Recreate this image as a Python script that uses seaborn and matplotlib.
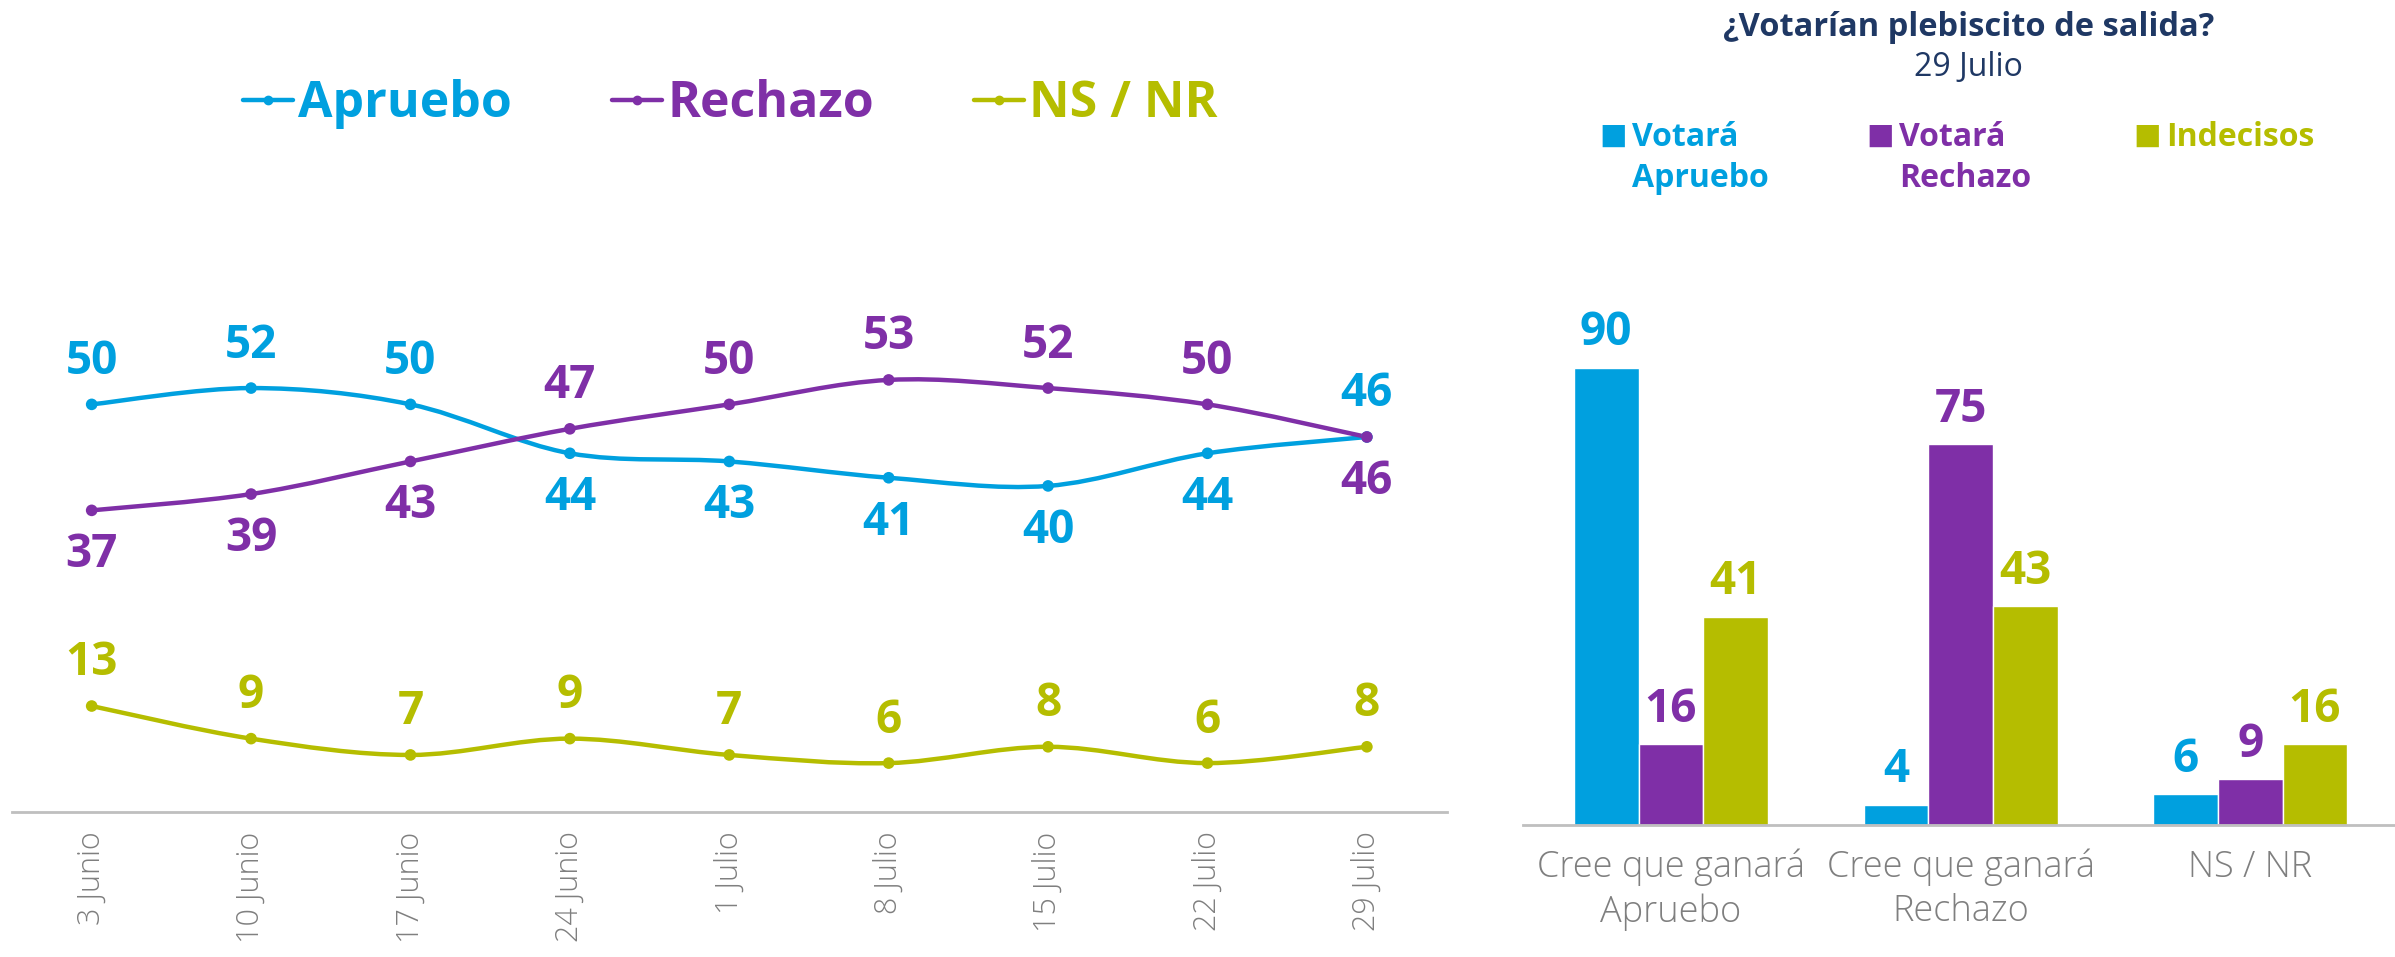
import numpy as np
import pandas as pd
import matplotlib.pyplot as plt
from matplotlib.path import Path
from matplotlib.patches import PathPatch
from matplotlib.lines import Line2D
import seaborn as sns

# datos serie temporal
fechas = ['3 Junio', '10 Junio', '17 Junio', '24 Junio', '1 Julio',
          '8 Julio', '15 Julio', '22 Julio', '29 Julio']
apruebo = [50, 52, 50, 44, 43, 41, 40, 44, 46]
rechazo = [37, 39, 43, 47, 50, 53, 52, 50, 46]
ns_nr = [13, 9, 7, 9, 7, 6, 8, 6, 8]

# datos barras (29 Julio)
grupos = ['Cree que ganará\nApruebo', 'Cree que ganará\nRechazo', 'NS / NR']
votara_apruebo = [90, 4, 6]
votara_rechazo = [16, 75, 9]
indecisos = [41, 43, 16]

AZUL = '#00A0DF'
MORADO = '#7F2FA7'
VERDE = '#B5BD00'
GRIS = '#7F7F7F'
NAVY = '#1F3864'

sns.set_style('white')
plt.rcParams['font.family'] = ['Open Sans', 'DejaVu Sans']

series = {'Apruebo': apruebo, 'Rechazo': rechazo, 'NS / NR': ns_nr}
colores_l = {'Apruebo': AZUL, 'Rechazo': MORADO, 'NS / NR': VERDE}
df_lineas = pd.concat([pd.DataFrame({'fecha': fechas, 'valor': v, 'serie': k})
                       for k, v in series.items()], ignore_index=True)

fig = plt.figure(figsize=(23.95, 9.57), dpi=100)
ax = fig.add_axes([0.005, 0.1515, 0.599, 0.535])
ax2 = fig.add_axes([0.636, 0.138, 0.364, 0.5486])


def curva(x, y):
    # curva suave tipo excel (catmull-rom -> bezier)
    pts = np.column_stack([x, y]).astype(float)
    verts, codes = [pts[0]], [Path.MOVETO]
    n = len(pts)
    for i in range(n - 1):
        p0 = pts[i - 1] if i > 0 else pts[i]
        p3 = pts[i + 2] if i + 2 < n else pts[i + 1]
        verts += [pts[i] + (pts[i + 1] - p0) / 6, pts[i + 1] - (p3 - pts[i]) / 6, pts[i + 1]]
        codes += [Path.CURVE4] * 3
    return Path(verts, codes)


sns.scatterplot(data=df_lineas, x='fecha', y='valor', hue='serie', palette=colores_l,
                s=70, edgecolor='none', legend=False, ax=ax, zorder=3)
xs = np.arange(len(fechas))
for k, v in series.items():
    ax.add_patch(PathPatch(curva(xs, v), facecolor='none', edgecolor=colores_l[k], lw=3.2,
                           capstyle='round'))

# etiquetas de valores
for i in range(len(fechas)):
    a_arriba = apruebo[i] >= rechazo[i]
    for k, v, arriba in [('Apruebo', apruebo, a_arriba), ('Rechazo', rechazo, not a_arriba),
                         ('NS / NR', ns_nr, True)]:
        ax.annotate(str(v[i]), (i, v[i]), xytext=(0, 31 if arriba else -32),
                    textcoords='offset points', ha='center', va='center',
                    fontsize=33, fontweight='bold', color=colores_l[k])

ax.set_xlim(-0.5, len(fechas) - 0.5)
ax.set_ylim(0, 62.8)
ax.set_xticks(xs, fechas, rotation=90, fontsize=22, color=GRIS, fontweight='light')
ax.set_xticks(np.arange(-0.5, len(fechas)), minor=True)
ax.tick_params(axis='x', which='major', length=0, pad=14)
ax.tick_params(axis='x', which='minor', length=12, width=1.2, color='#A6A6A6')
ax.set_yticks([])
ax.set_xlabel('')
ax.set_ylabel('')
sns.despine(ax=ax, left=True)
ax.spines['bottom'].set_color('#BFBFBF')
ax.spines['bottom'].set_linewidth(2)

handles = [Line2D([], [], color=colores_l[k], lw=3.2, marker='o', markersize=6) for k in series]
leg = fig.legend(handles, list(series), loc='center', bbox_to_anchor=(0.305, 0.891), ncol=3,
                 frameon=False, handlelength=1.0, handletextpad=0.1, columnspacing=2.0,
                 prop={'size': 36, 'weight': 'bold'})
for t, k in zip(leg.get_texts(), series):
    t.set_color(colores_l[k])

# barras
barras = {'Votará Apruebo': votara_apruebo, 'Votará Rechazo': votara_rechazo,
          'Indecisos': indecisos}
colores_b = [AZUL, MORADO, VERDE]
df_barras = pd.concat([pd.DataFrame({'grupo': grupos, 'valor': v, 'serie': k})
                       for k, v in barras.items()], ignore_index=True)
sns.barplot(data=df_barras, x='grupo', y='valor', hue='serie', palette=colores_b,
            width=0.67, gap=0, saturation=1, legend=False, ax=ax2)
for cont, c in zip(ax2.containers, colores_b):
    ax2.bar_label(cont, padding=8, color=c, fontsize=33, fontweight='bold')

ax2.set_xlim(-0.51, 2.5)
ax2.set_ylim(0, 103.3)
ax2.set_xticks(range(len(grupos)), grupos, fontsize=26, color=GRIS, fontweight='light',
               linespacing=1.25)
ax2.set_xticks([-0.5, 0.5, 1.5], minor=True)
ax2.tick_params(axis='x', which='major', length=0, pad=17)
ax2.tick_params(axis='x', which='minor', length=14, width=1.2, color='#A6A6A6')
ax2.set_yticks([])
ax2.set_xlabel('')
ax2.set_ylabel('')
sns.despine(ax=ax2, left=True)
ax2.spines['bottom'].set_color('#BFBFBF')
ax2.spines['bottom'].set_linewidth(2)

fig.text(0.822, 0.971, '¿Votarían plebiscito de salida?', ha='center', va='center',
         fontsize=23.5, fontweight='bold', color=NAVY)
fig.text(0.822, 0.929, '29 Julio', ha='center', va='center', fontsize=23, color=NAVY)

leyenda_b = ['Votará\nApruebo', 'Votará\nRechazo', 'Indecisos']
for x0, lab, c in zip([0.6735, 0.785, 0.8965], leyenda_b, colores_b):
    fig.text(x0, 0.858, '■', ha='center', va='center', fontsize=21, color=c,
             family=['DejaVu Sans'])
    fig.text(x0 + 0.008, 0.874, lab, ha='left', va='top', fontsize=23,
             fontweight='bold', color=c, linespacing=1.35)

fig.savefig('out.png', dpi=100)
